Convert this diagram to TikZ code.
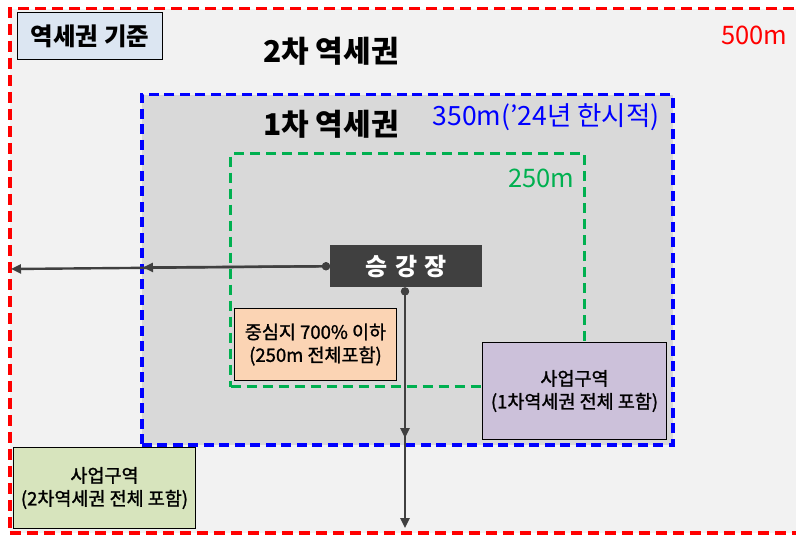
\documentclass[tikz,border=0pt]{standalone}
\usepackage{fontspec}
\newfontfamily\kr{Noto Sans CJK KR}
\newfontfamily\krm[FakeBold=1.3]{Noto Sans CJK KR}
\usetikzlibrary{arrows.meta}
\definecolor{bgout}{HTML}{F2F2F2}
\definecolor{bgin}{HTML}{D9D9D9}
\definecolor{redz}{HTML}{FF0000}
\definecolor{bluez}{HTML}{0000FF}
\definecolor{greenz}{HTML}{00B050}
\definecolor{station}{HTML}{404040}
\definecolor{peach}{HTML}{FBD4B4}
\definecolor{lilac}{HTML}{CCC1DA}
\definecolor{sage}{HTML}{D7E4BD}
\definecolor{lblue}{HTML}{DCE6F2}
\tikzset{
  zone/.style={line width=3.5pt, dash pattern=on 11pt off 6pt, inner sep=0pt, anchor=north west},
  infobox/.style={draw=black, line width=1pt, anchor=north west, inner sep=0pt, align=center,
    font=\krm\fontsize{18.5}{23}\selectfont},
  title/.style={font=\kr\bfseries\fontsize{30}{32}\selectfont, text=black},
  dist/.style={font=\kr\fontsize{25.5}{28}\selectfont, anchor=east},
  conn/.style={draw=station, line width=2.4pt, {Circle[length=8pt]}-{Triangle[length=10pt,width=9pt]}},
}
\begin{document}
\begin{tikzpicture}[x=1pt,y=-1pt]
\useasboundingbox (0,0) rectangle (796,535);
\fill[white] (0,0) rectangle (796,535);
% zones
\node[zone, draw=redz, fill=bgout, minimum width=810pt, minimum height=524pt] (z2) at (8,7) {};
\node[zone, draw=bluez, fill=bgin, dash pattern=on 10pt off 5.5pt, minimum width=531pt, minimum height=350pt] (z1) at (140,93) {};
\node[zone, draw=greenz, line width=3pt, dash pattern=on 10pt off 6pt, minimum width=354pt, minimum height=233pt] (z0) at (229,152) {};
% titles
\node[infobox, fill=lblue, minimum width=145pt, minimum height=47pt, font=\kr\bfseries\fontsize{24.5}{26}\selectfont] (crit) at (17,12) {역세권 기준};
\node[title] (t2) at (331,51) {2차 역세권};
\node[title] (t1) at (331,124) {1차 역세권};
\node[dist, text=redz] (d500) at (791,35) {500m};
\node[dist, text=bluez, font=\kr\fontsize{26.5}{28}\selectfont] (d350) at (663,117) {350m(’24년 한시적)};
\node[dist, text=greenz] (d250) at (578,178) {250m};
% station
\node[fill=station, text=white, anchor=north west, minimum width=152pt, minimum height=42pt, inner sep=0pt,
  font=\kr\bfseries\fontsize{24}{26}\selectfont] (st) at (330,245) {승\hspace{0.3em}강\hspace{0.3em}장};
% info boxes
\node[infobox, fill=peach, minimum width=162pt, minimum height=72pt] (core) at (234,308) {중심지 700\% 이하\\(250m 전체포함)};
\node[infobox, fill=lilac, minimum width=184pt, minimum height=97pt] (biz1) at (482,342) {사업구역\\(1차역세권 전체 포함)};
\node[infobox, fill=sage, minimum width=182pt, minimum height=81pt] (biz2) at (13,447) {사업구역\\(2차역세권 전체 포함)};
% connector ends
\coordinate (lb) at (143,267.5);
\coordinate (lr) at (11,269);
\coordinate (db) at (405,438);
\coordinate (dr) at (405,528);
\draw[conn] (st.west) -- (lr);
\draw[conn] (st.west) -- (lb);
\draw[conn] (st.south -| db) -- (dr);
\draw[conn] (st.south -| db) -- (db);
\end{tikzpicture}
\end{document}
